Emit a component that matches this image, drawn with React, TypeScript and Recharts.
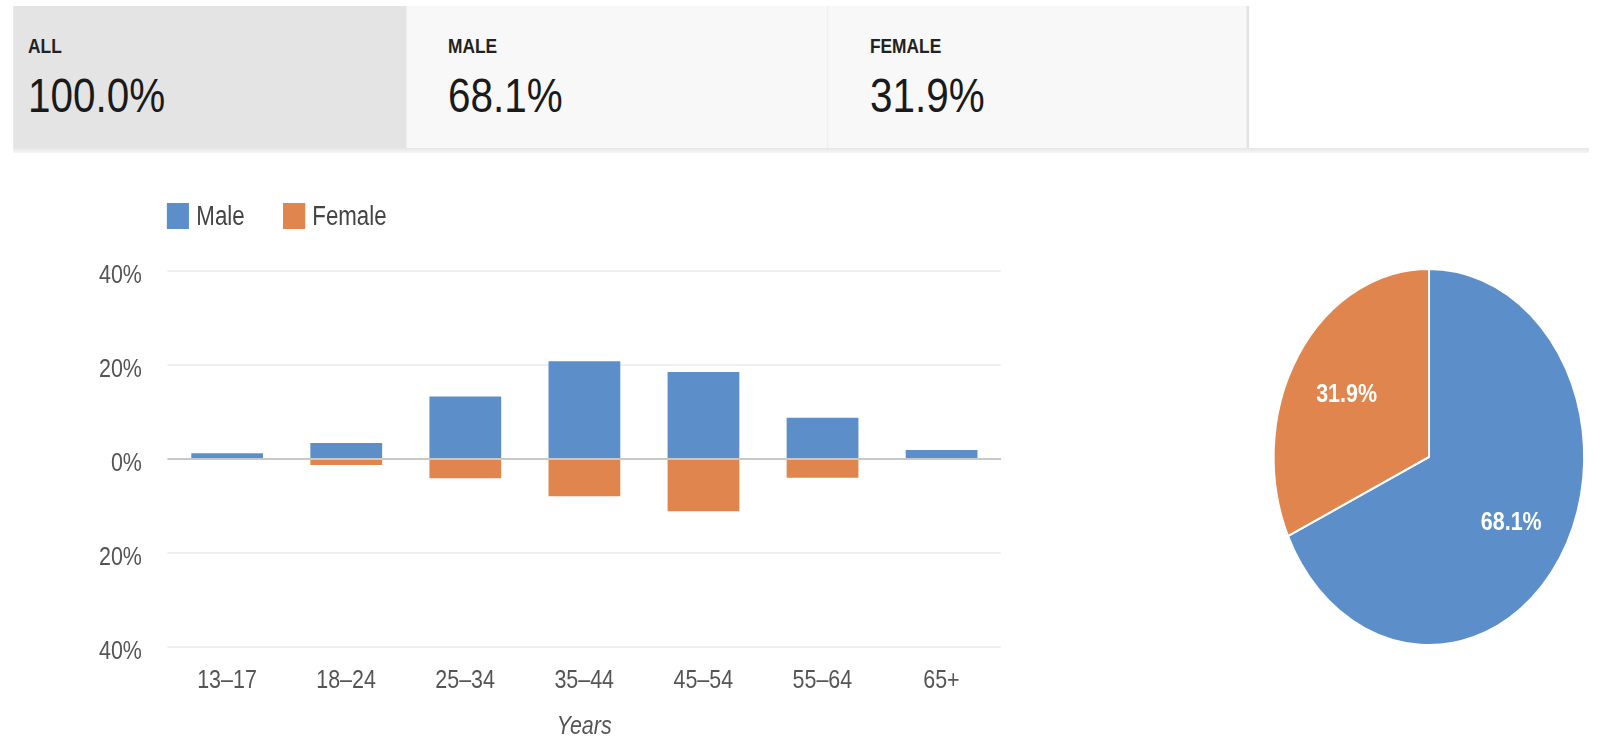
import { BarChart, Bar, XAxis, YAxis, CartesianGrid, ReferenceLine, Legend, Label, PieChart, Pie, Cell } from 'recharts';

// values
const ageGroups = ['13–17', '18–24', '25–34', '35–44', '45–54', '55–64', '65+'];
const maleShare = [1.2, 3.4, 13.3, 20.8, 18.5, 8.8, 1.9];
const femaleShare = [0, 1.3, 4.1, 7.9, 11.1, 4.0, 0];
const yTicks = [-40, -20, 0, 20, 40];

const tabLabels = ['ALL', 'MALE', 'FEMALE'];
const tabValues = ['100.0%', '68.1%', '31.9%'];

const genderNames = ['Male', 'Female'];
const genderTotals = [68.1, 31.9];

const BLUE = '#5c8fca';
const ORANGE = '#e1854f';
const FONT = '"Liberation Sans", Arial, Helvetica, sans-serif';

// the reference is squeezed horizontally, so draw wide and squash
const S = 0.825;
const INNER_W = 1602 / S;

const barData = ageGroups.map((age, i) => ({
  age,
  male: maleShare[i],
  female: -femaleShare[i],
}));

const pieData = genderNames.map((name, i) => ({ name, value: genderTotals[i] }));
const pieColors = [BLUE, ORANGE];

// tab boxes in unsquashed px
const tabBoxes = [
  { left: 15.8, width: 477.5, bg: '#e4e4e4', textLeft: 34 },
  { left: 493.3, width: 510.3, bg: '#f8f8f8', textLeft: 543 },
  { left: 1003.6, width: 510.3, bg: '#f8f8f8', textLeft: 1054.5 },
];

const PIE_R = 188;
const PIE_CX = 1424.5 / S;
const PIE_CY = 451.5;

const RAD = Math.PI / 180;
const renderPieLabel = (props: any) => {
  const { cx, cy, midAngle, outerRadius, value } = props;
  const r = outerRadius * 0.63;
  const x = cx + r * Math.cos(-midAngle * RAD);
  const y = cy + r * Math.sin(-midAngle * RAD);
  return (
    <text x={x} y={y} fill="#fff" textAnchor="middle" dominantBaseline="central" fontSize={26} fontWeight="bold" fontFamily={FONT}>
      {value.toFixed(1)}%
    </text>
  );
};

const renderLegend = () => (
  <div style={{ display: 'flex', alignItems: 'center', fontFamily: FONT, fontSize: 27, color: '#444', lineHeight: '26px' }}>
    {genderNames.map((name, i) => (
      <div key={name} style={{ display: 'flex', alignItems: 'center', marginRight: 46 }}>
        <span style={{ display: 'inline-block', width: 27, height: 26, background: pieColors[i], marginRight: 9 }} />
        <span>{name}</span>
      </div>
    ))}
  </div>
);

export default function App() {
  return (
    <div style={{ position: 'fixed', left: 0, top: 0, width: 1602, height: 742, overflow: 'hidden', background: '#fff', fontFamily: FONT }}>
      <div style={{ position: 'absolute', left: 0, top: 0, width: INNER_W, height: 742, transform: `scaleX(${S})`, transformOrigin: '0 0' }}>
        {tabBoxes.map((t, i) => (
          <div key={tabLabels[i]}>
            <div style={{ position: 'absolute', left: t.left, top: 6, width: t.width, height: 142, background: t.bg, borderRight: i === 1 ? '1px solid #e6e6e6' : i === 2 ? '3px solid #e2e2e2' : 'none', boxSizing: 'border-box' }} />
            <div style={{ position: 'absolute', left: t.textLeft, top: 35, fontSize: 21, fontWeight: 'bold', lineHeight: '21px', color: '#222' }}>{tabLabels[i]}</div>
            <div style={{ position: 'absolute', left: t.textLeft, top: 71, fontSize: 49, lineHeight: '49px', color: '#1a1a1a' }}>{tabValues[i]}</div>
          </div>
        ))}
        <div style={{ position: 'absolute', left: 15.8, top: 148, width: 1910, height: 5, background: 'linear-gradient(#e6e6e6, #f6f6f6)' }} />

        <div style={{ position: 'absolute', left: 0, top: 0 }}>
          <BarChart
            width={1260}
            height={742}
            data={barData}
            stackOffset="sign"
            barCategoryGap="20%"
            margin={{ top: 271, right: 46.7, bottom: 2, left: 123 }}
          >
            <CartesianGrid vertical={false} stroke="#ebebeb" strokeWidth={1.5} />
            <XAxis
              dataKey="age"
              interval={0}
              tickLine={false}
              axisLine={false}
              tickMargin={17}
              height={93}
              tick={{ fontSize: 26, fill: '#555', fontFamily: FONT }}
            >
              <Label value="Years" position="insideBottom" offset={6} style={{ fontSize: 26, fontStyle: 'italic', fill: '#555', fontFamily: FONT }} />
            </XAxis>
            <YAxis
              domain={[-40, 40]}
              ticks={yTicks}
              width={80}
              tickLine={false}
              axisLine={false}
              tickMargin={25}
              tickFormatter={(v: number) => `${Math.abs(v)}%`}
              tick={{ fontSize: 26, fill: '#555', fontFamily: FONT, dy: 3 }}
            />
            <ReferenceLine y={0} stroke="#c8c8c8" strokeWidth={2} />
            <Legend
              layout="horizontal"
              verticalAlign="middle"
              align="center"
              content={renderLegend}
              wrapperStyle={{ top: 203, left: 202, width: 'auto' }}
            />
            <Bar dataKey="male" name="Male" stackId="a" fill={BLUE} isAnimationActive={false} />
            <Bar dataKey="female" name="Female" stackId="a" fill={ORANGE} isAnimationActive={false} />
          </BarChart>
        </div>

        <div style={{ position: 'absolute', left: PIE_CX - 200, top: PIE_CY - 200 }}>
          <PieChart width={400} height={400}>
            <Pie
              data={pieData}
              dataKey="value"
              cx={200}
              cy={200}
              outerRadius={PIE_R}
              startAngle={90}
              endAngle={-270}
              stroke="#fff"
              strokeWidth={2}
              labelLine={false}
              label={renderPieLabel}
              isAnimationActive={false}
            >
              {pieData.map((entry, i) => (
                <Cell key={entry.name} fill={pieColors[i]} />
              ))}
            </Pie>
          </PieChart>
        </div>
      </div>
    </div>
  );
}
